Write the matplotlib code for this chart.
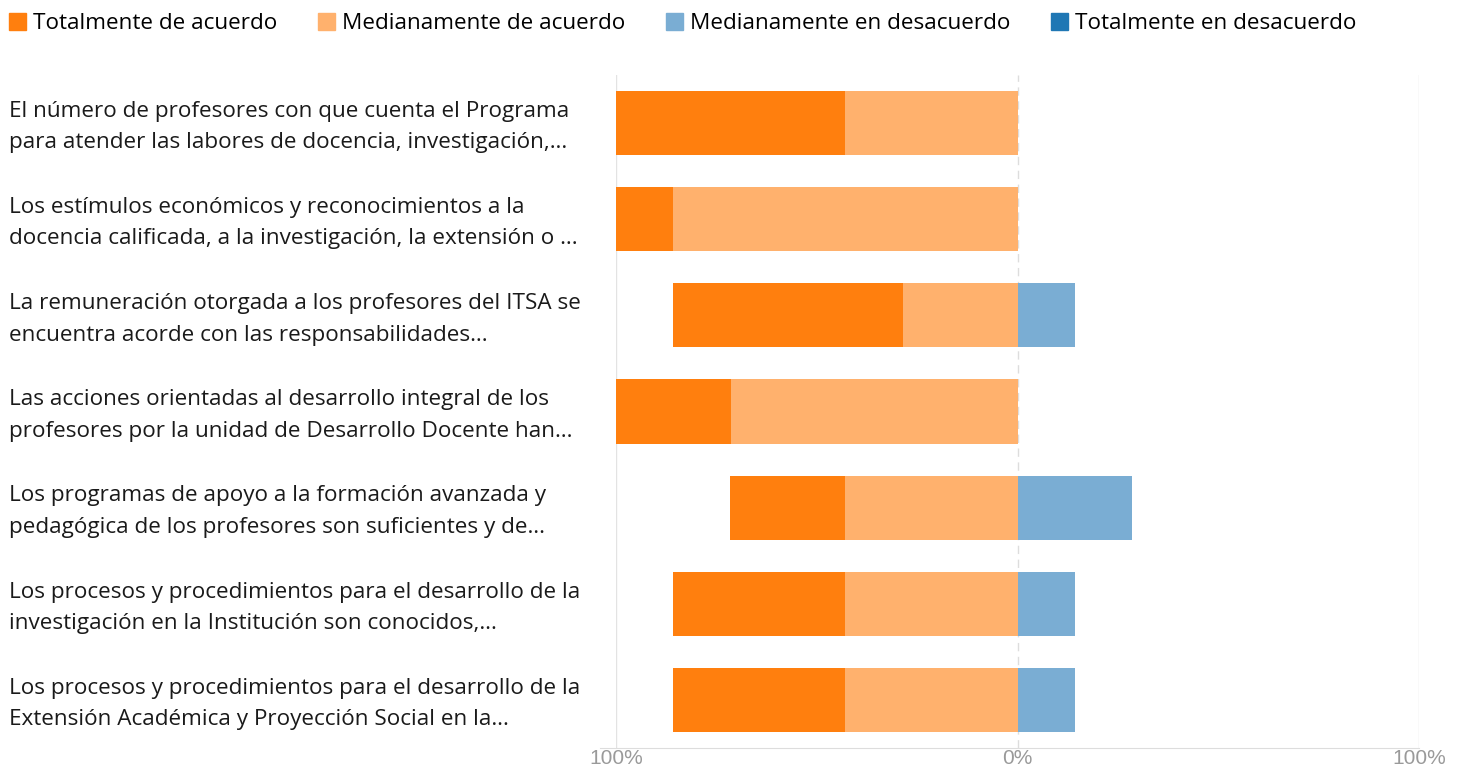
import matplotlib
matplotlib.use('Agg')
import matplotlib.pyplot as plt
from matplotlib.patches import Patch
from matplotlib.transforms import blended_transform_factory, offset_copy
import numpy as np

plt.rcParams['font.family'] = ['Open Sans', 'DejaVu Sans']

preguntas = [
    'El número de profesores con que cuenta el Programa\npara atender las labores de docencia, investigación,…',
    'Los estímulos económicos y reconocimientos a la\ndocencia calificada, a la investigación, la extensión o …',
    'La remuneración otorgada a los profesores del ITSA se\nencuentra acorde con las responsabilidades…',
    'Las acciones orientadas al desarrollo integral de los\nprofesores por la unidad de Desarrollo Docente han…',
    'Los programas de apoyo a la formación avanzada y\npedagógica de los profesores son suficientes y de…',
    'Los procesos y procedimientos para el desarrollo de la\ninvestigación en la Institución son conocidos,…',
    'Los procesos y procedimientos para el desarrollo de la\nExtensión Académica y Proyección Social en la…',
]
series = ['Totalmente de acuerdo', 'Medianamente de acuerdo',
          'Medianamente en desacuerdo', 'Totalmente en desacuerdo']
tot_acuerdo = [57.1, 14.3, 57.1, 28.6, 28.6, 42.9, 42.9]
med_acuerdo = [42.9, 85.7, 28.6, 71.4, 42.9, 42.9, 42.9]
med_desacuerdo = [0, 0, 14.3, 0, 28.6, 14.3, 14.3]
tot_desacuerdo = [0, 0, 0, 0, 0, 0, 0]
colores = ['#ff7f0e', '#ffb16d', '#7aadd3', '#1f77b4']

fig = plt.figure(figsize=(14.62, 7.73), dpi=100)
ax = fig.add_axes([616 / 1462, 25 / 773, 803 / 1462, 673 / 773])

y = np.arange(len(preguntas))
ta = np.array(tot_acuerdo)
ma = np.array(med_acuerdo)
md = np.array(med_desacuerdo)
td = np.array(tot_desacuerdo)
h = 0.667
# agreement to the left of zero, disagreement to the right
ax.barh(y, -ma, height=h, color=colores[1], zorder=3)
ax.barh(y, -ta, left=-ma, height=h, color=colores[0], zorder=3)
ax.barh(y, md, height=h, color=colores[2], zorder=3)
ax.barh(y, td, left=md, height=h, color=colores[3], zorder=3)

ax.set_xlim(-100, 100)
ax.set_ylim(len(preguntas) - 0.5, -0.5)
ax.axvline(-100, color='#e3e3e3', lw=1, zorder=1)
ax.axvline(100, color='#e3e3e3', lw=1, zorder=1)
ax.axvline(0, color='#dddddd', lw=1, ls=(0, (6, 4)), zorder=1)

for s in ['top', 'right', 'left']:
    ax.spines[s].set_visible(False)
ax.spines['bottom'].set_color('#dddddd')
ax.spines['bottom'].set_bounds(-104, 100)
ax.set_xticks([-100, 0, 100])
ax.set_xticklabels(['100%', '0%', '100%'], color='#9a9a9a', fontsize=15,
                   family=['Liberation Sans', 'DejaVu Sans'])
ax.tick_params(axis='x', length=0, pad=1)
ax.set_yticks([])

tr = blended_transform_factory(fig.transFigure, ax.transData)
tr = offset_copy(tr, fig=fig, y=-4, units='dots')
for i, txt in enumerate(preguntas):
    ax.text(9 / 1462, i, txt, transform=tr, ha='left', va='center',
            fontsize=16.2, color='#1a1a1a', linespacing=1.65)

handles = [Patch(color=c) for c in colores]
fig.legend(handles, series, loc='upper left', bbox_to_anchor=(-0.0075, 1.009), ncol=4,
           frameon=False, fontsize=16.2, handlelength=0.75, handleheight=0.75,
           handletextpad=0.3, columnspacing=1.82, borderaxespad=0.5)

fig.savefig('out.png', dpi=100)
